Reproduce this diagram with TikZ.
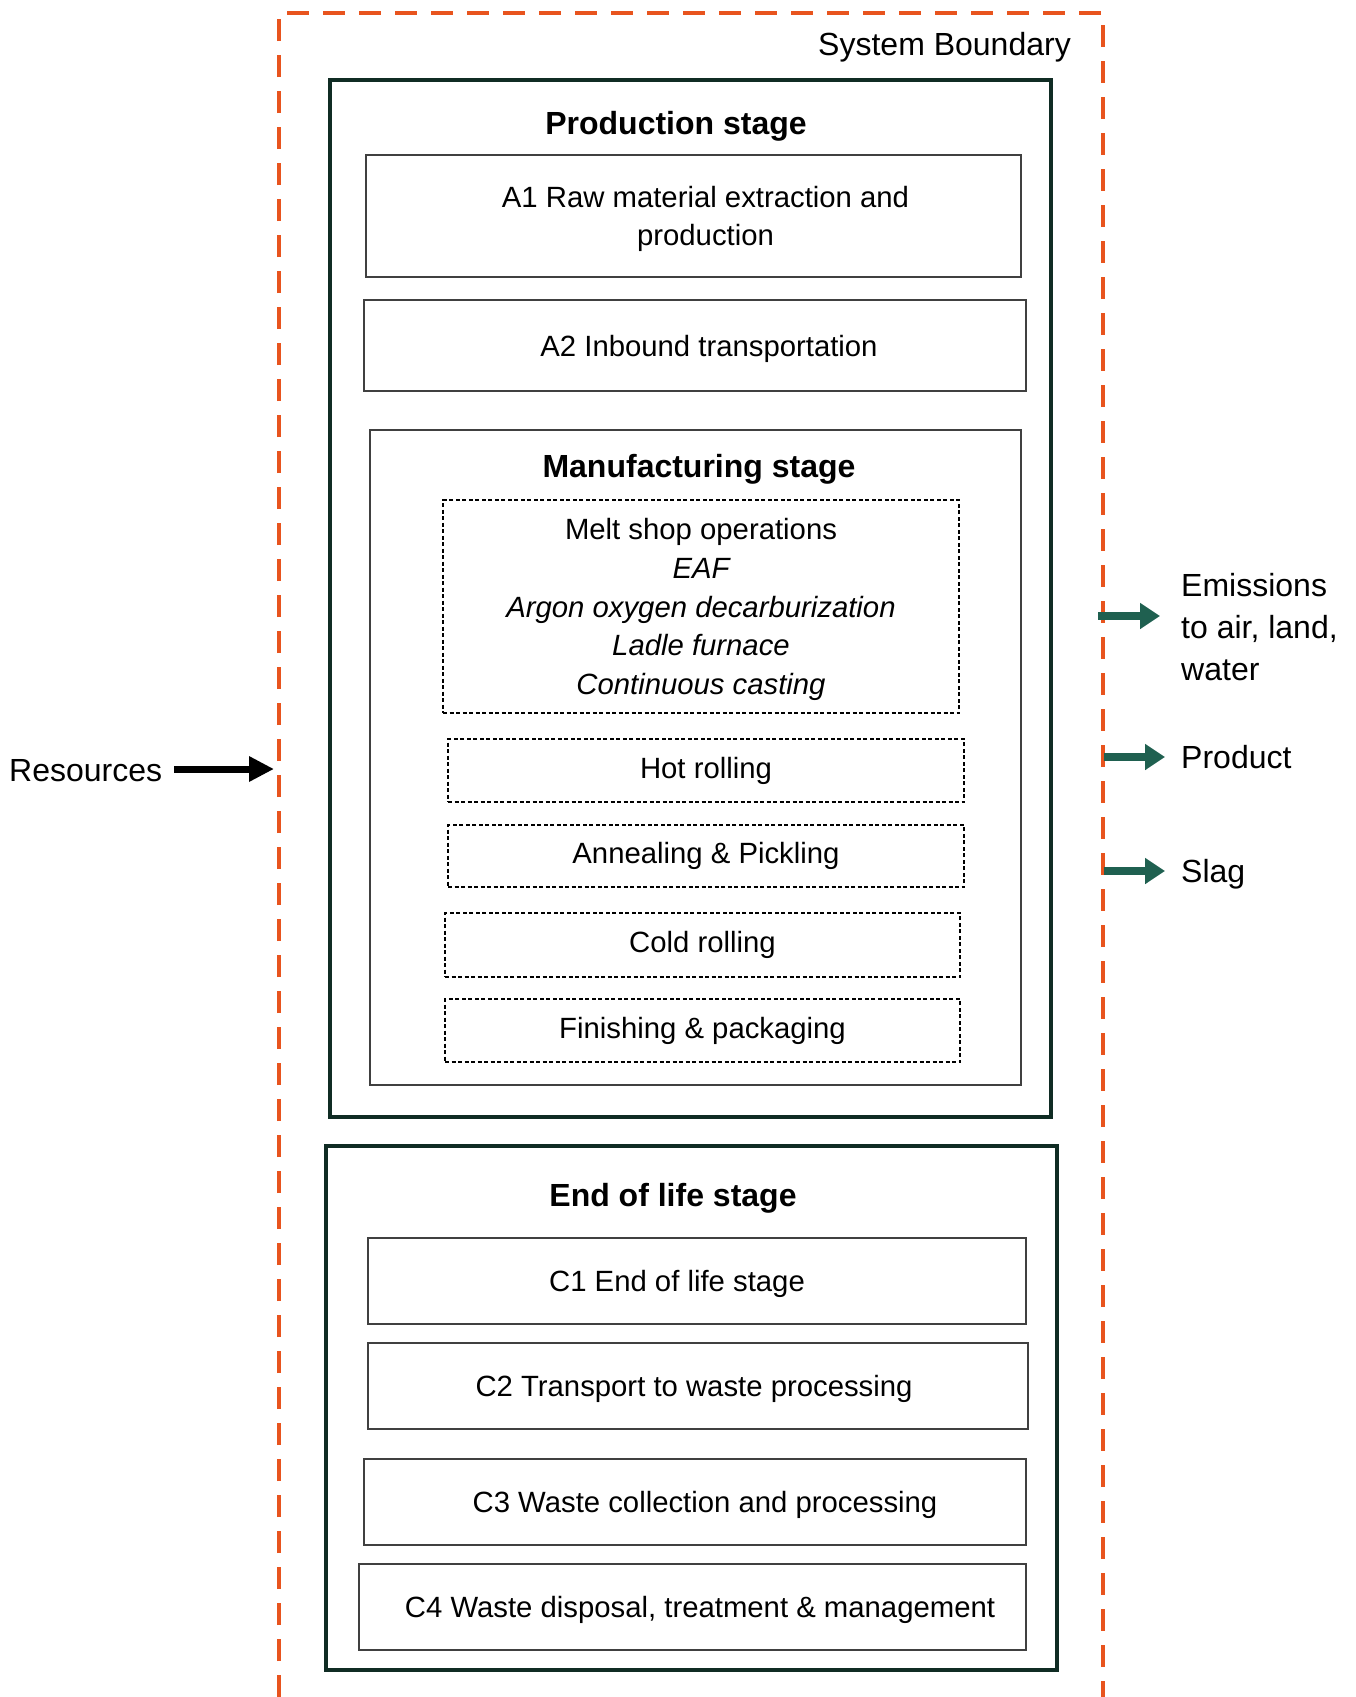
\documentclass[tikz,border=0pt]{standalone}
\usepackage{fontspec}
\setmainfont{Liberation Sans}
\usetikzlibrary{arrows.meta}
\definecolor{bndorange}{RGB}{232,84,30}
\definecolor{boxgreen}{RGB}{16,44,36}
\definecolor{arrgreen}{RGB}{31,96,80}
\begin{document}
\begin{tikzpicture}[x=1pt,y=-1pt,
  bnd/.style={draw=bndorange, line width=3.6pt, dash pattern=on 22pt off 14pt},
  stagebox/.style={draw=boxgreen, line width=4.5pt, rectangle, inner sep=0pt},
  thinbox/.style={draw=black!75, line width=1.2pt, rectangle, inner sep=0pt, align=center, text depth=-8pt, font=\fontsize{29.3}{38}\selectfont},
  dbox/.style={draw=black, line width=1.4pt, dash pattern=on 4pt off 2.5pt, rectangle, inner sep=0pt, align=center, font=\fontsize{29.3}{38.7}\selectfont},
  ttl/.style={font=\fontsize{32}{36}\selectfont\bfseries, inner sep=0pt},
  outer/.style={font=\fontsize{32}{42}\selectfont, inner sep=0pt, align=left},
  blkarrow/.style={line width=7pt, -{Triangle[length=25pt,width=24pt]}},
  grnarrow/.style={draw=arrgreen, line width=8pt, -{Triangle[length=20pt,width=25pt]}, color=arrgreen}
]
\useasboundingbox (0,0) rectangle (1356,1697);
\fill[white] (0,0) rectangle (1356,1697);

% system boundary
\draw[bnd] (279,1697) -- (279,13) -- (1103,13) -- (1103,1697);
\node[outer, anchor=east] (sysb) at (1071,47) {System Boundary};

% production stage
\node[stagebox, minimum width=721pt, minimum height=1037pt] (prod) at (690.5,598.5) {};
\node[ttl] (prodt) at (676,126) {Production stage};
\node[thinbox, minimum width=655pt, minimum height=122pt] (a1) at (693.5,216) {\hspace*{24pt}A1 Raw material extraction and\\\hspace*{24pt}production};
\node[thinbox, minimum width=662pt, minimum height=91pt] (a2) at (695,345.5) {\hspace*{28pt}A2 Inbound transportation};

% manufacturing
\node[draw=black!75, line width=1.2pt, rectangle, inner sep=0pt, minimum width=651pt, minimum height=655pt] (manu) at (695.5,757.5) {};
\node[ttl] (manut) at (699,469) {Manufacturing stage};
\node[dbox, text depth=0pt, minimum width=516pt, minimum height=213pt] (melt) at (701,606.5) {Melt shop operations\\\itshape EAF\\\itshape Argon oxygen decarburization\\\itshape Ladle furnace\\\itshape Continuous casting};
\node[dbox, minimum width=516pt, minimum height=63pt] (hot) at (706,770.5) {Hot rolling};
\node[dbox, minimum width=516pt, minimum height=62pt] (ann) at (706,856) {Annealing \& Pickling};
\node[dbox, minimum width=515pt, minimum height=64pt] (cold) at (702.5,945) {Cold rolling};
\node[dbox, minimum width=515pt, minimum height=63pt] (fin) at (702.5,1030.5) {Finishing \& packaging};

% end of life
\node[stagebox, minimum width=731pt, minimum height=524pt] (eol) at (691.5,1408) {};
\node[ttl] (eolt) at (673,1198) {End of life stage};
\node[thinbox, minimum width=658pt, minimum height=86pt] (c1) at (697,1281) {C1 End of life stage\hspace*{40pt}};
\node[thinbox, minimum width=660pt, minimum height=86pt] (c2) at (698,1386) {C2 Transport to waste processing\hspace*{8pt}};
\node[thinbox, minimum width=662pt, minimum height=86pt] (c3) at (695,1502) {\hspace*{20pt}C3 Waste collection and processing};
\node[thinbox, minimum width=667pt, minimum height=86pt] (c4) at (692.5,1607) {\hspace*{15pt}C4 Waste disposal, treatment \& management};

% inputs / outputs
\node[outer, anchor=west] (res) at (9,771) {Resources};
\coordinate (resin) at (274,769);
\draw[blkarrow] ([xshift=12pt]res.east|-resin) -- (resin);

\node[outer, anchor=west] (emis) at (1181,627) {Emissions\\to air, land,\\water};
\node[outer, anchor=west] (prodout) at (1181,757) {Product};
\node[outer, anchor=west] (slag) at (1181,874) {Slag};
\coordinate (emisout) at (1098,616);
\coordinate (prodoutc) at (1104,757);
\coordinate (slagout) at (1104,871);
\draw[grnarrow] (emisout) -- (1160,616);
\draw[grnarrow] (prodoutc) -- ([xshift=-16pt]prodout.west);
\draw[grnarrow] (slagout) -- ([xshift=-16pt]slag.west|-slagout);
\end{tikzpicture}
\end{document}
